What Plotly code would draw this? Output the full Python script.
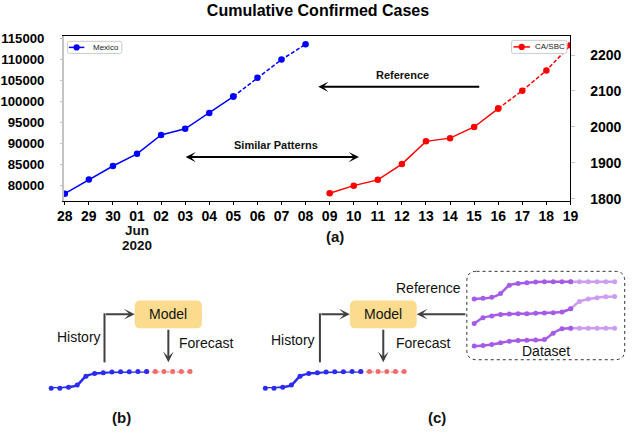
import plotly.graph_objects as go

W, H = 634, 432
FONT = "Liberation Sans, Arial, sans-serif"

# ---------------- panel (a): cumulative confirmed cases ----------------
days = ["28", "29", "30", "01", "02", "03", "04", "05", "06", "07", "08",
        "09", "10", "11", "12", "13", "14", "15", "16", "17", "18", "19"]
month_label = ["Jun", "2020"]   # printed under "01"

mexico_days = ["28", "29", "30", "01", "02", "03", "04", "05", "06", "07", "08"]
mexico_cases = [78100, 81450, 84700, 87600, 92100, 93550, 97350, 101250, 105750, 110050, 113700]
mexico_ticks = [80000, 85000, 90000, 95000, 100000, 105000, 110000, 115000]

sbc_days = ["09", "10", "11", "12", "13", "14", "15", "16", "17", "18", "19"]
sbc_cases = [1816, 1837, 1853, 1897, 1960, 1969, 2000, 2051, 2101, 2157, 2227]
sbc_ticks = [1800, 1900, 2000, 2100, 2200]

split = 7  # from this point on the series is drawn dashed

# ---------------- panels (b) and (c): sketch curves ----------------
sketch_history = [0.0, 0.0, 0.06, 0.19, 0.71, 0.87, 0.92, 0.96, 0.98, 0.98, 1.0, 1.0]
sketch_forecast = [1.0, 1.0, 1.0, 1.0, 1.0, 1.0]   # starts at the last history point

ref_curves = [
    [62.3, 63, 64, 68, 76.3, 78.3, 79, 79.7, 80, 80, 80, 80, 80, 80, 80, 80, 80],
    [37.3, 43, 45, 46.3, 47, 47.3, 47.3, 47.7, 48, 48.3, 49, 52.3, 59.7, 62.3, 63.7, 64.7, 65],
    [14, 14.7, 15.7, 17.3, 19, 19.7, 20, 20.3, 20.7, 27.3, 31.7, 32.3, 32.3, 32.3, 32.3, 32.3, 32.3],
]
ref_split = 11

BLUE = "#0000ff"
RED = "#ff0000"
S_BLUE = "#2b2bf2"
S_RED = "#f26a6a"
PURPLE = "#a65be8"
PURPLE_L = "#cd9df3"
GOLD = "#fbdc8e"
DARK = "#404040"


def px(x):
    return x / W


def py(y):
    return 1 - y / H


fig = go.Figure()

# Mexico (left axis)
fig.add_trace(go.Scatter(x=mexico_days[:split + 1], y=mexico_cases[:split + 1], name="Mexico",
                         mode="lines+markers", line=dict(color=BLUE, width=1.5),
                         marker=dict(size=6.5, color=BLUE)))
fig.add_trace(go.Scatter(x=mexico_days[split:], y=mexico_cases[split:], name="Mexico",
                         mode="lines+markers", line=dict(color=BLUE, width=1.5, dash="4px,2px"),
                         marker=dict(size=6.5, color=BLUE)))
# CA/SBC (right axis)
fig.add_trace(go.Scatter(x=sbc_days[:split + 1], y=sbc_cases[:split + 1], name="CA/SBC",
                         mode="lines+markers", line=dict(color=RED, width=1.5),
                         marker=dict(size=6.5, color=RED), yaxis="y2"))
fig.add_trace(go.Scatter(x=sbc_days[split:], y=sbc_cases[split:], name="CA/SBC",
                         mode="lines+markers", line=dict(color=RED, width=1.5, dash="4px,2px"),
                         marker=dict(size=6.5, color=RED), yaxis="y2"))

# sketch curves in (b) and (c)
for ax in ["4", "5"]:
    fig.add_trace(go.Scatter(x=list(range(len(sketch_history) - 1, len(sketch_history) - 1 + len(sketch_forecast))),
                             y=sketch_forecast, mode="lines+markers",
                             line=dict(color=S_RED, width=2, dash="3px,2px"),
                             marker=dict(size=5, color=S_RED), cliponaxis=False,
                             xaxis="x" + ax, yaxis="y" + ax))
    fig.add_trace(go.Scatter(x=list(range(len(sketch_history))), y=sketch_history,
                             mode="lines+markers",
                             line=dict(color=S_BLUE, width=2.5, shape="spline", smoothing=0.8),
                             marker=dict(size=5, color=S_BLUE), cliponaxis=False,
                             xaxis="x" + ax, yaxis="y" + ax))

# reference dataset curves in (c)
for c in ref_curves:
    fig.add_trace(go.Scatter(x=list(range(ref_split, len(c))), y=c[ref_split:],
                             mode="lines+markers",
                             line=dict(color=PURPLE_L, width=2.5, shape="spline", smoothing=0.8),
                             marker=dict(size=5, color=PURPLE_L), cliponaxis=False,
                             xaxis="x6", yaxis="y6"))
    fig.add_trace(go.Scatter(x=list(range(ref_split + 1)), y=c[:ref_split + 1],
                             mode="lines+markers",
                             line=dict(color=PURPLE, width=2.5, shape="spline", smoothing=0.8),
                             marker=dict(size=5, color=PURPLE), cliponaxis=False,
                             xaxis="x6", yaxis="y6"))


def rrect(x0, y0, x1, y1, r):
    return (f"M{x0 + r},{y0} L{x1 - r},{y0} Q{x1},{y0} {x1},{y0 + r} L{x1},{y1 - r} "
            f"Q{x1},{y1} {x1 - r},{y1} L{x0 + r},{y1} Q{x0},{y1} {x0},{y1 - r} "
            f"L{x0},{y0 + r} Q{x0},{y0} {x0 + r},{y0} Z")


def text(x, y, s, size=14, bold=False, anchor="center", color="#111111"):
    return dict(x=x, y=y, xref="x3", yref="y3", text=s, showarrow=False, xanchor=anchor,
                yanchor="middle", font=dict(family=FONT, size=size, color=color,
                                            weight="bold" if bold else "normal"))


def arrow(x0, y0, x1, y1, color=DARK, width=2, size=0.9, both=False):
    return dict(x=x1, y=y1, ax=x0, ay=y0, xref="x3", yref="y3", axref="x3", ayref="y3",
                text="", showarrow=True, arrowhead=3, arrowsize=size, arrowwidth=width,
                arrowcolor=color, arrowside="end+start" if both else "end",
                startarrowhead=3, startarrowsize=size, standoff=0, startstandoff=0)


annotations = [
    text(132.5, 231, month_label[0], 13.5, True),
    text(132.5, 247, month_label[1], 13.5, True),
    text(405, 71.7, "Reference", 11, True),
    arrow(485, 84, 318.3, 84, "black", 2, 0.85),
    text(274.8, 143.3, "Similar Patterns", 11, True),
    arrow(180.7, 156, 360, 156, "black", 2, 0.85, both=True),
    text(335.5, 238, "(a)", 15, True),
    # (b)
    text(164.5, 317.5, "Model"),
    text(73.3, 340.7, "History"),
    text(173.3, 346.7, "Forecast", anchor="left"),
    arrow(99, 317.3, 130, 317.3),
    arrow(164.5, 331.7, 164.5, 366.7),
    text(116.7, 423.3, "(b)", 15, True),
    # (c)
    text(385, 317.5, "Model"),
    text(292.7, 343.3, "History"),
    text(396, 346.7, "Forecast", anchor="left"),
    arrow(320, 317.3, 350.7, 317.3),
    arrow(385, 331.7, 385, 366.7),
    arrow(470.7, 317.3, 419.3, 317.3),
    text(431.7, 290, "Reference"),
    text(551.7, 355, "Dataset"),
    text(440.5, 423.3, "(c)", 15, True),
]

shapes = [
    dict(type="path", xref="x3", yref="y3", path=rrect(130, 303.3, 199, 331.7, 6),
         fillcolor=GOLD, line=dict(width=0), layer="below"),
    dict(type="path", xref="x3", yref="y3", path=rrect(350.7, 303.3, 419.3, 331.7, 6),
         fillcolor=GOLD, line=dict(width=0), layer="below"),
    dict(type="line", xref="x3", yref="y3", x0=99, y0=366.7, x1=99, y1=316.3,
         line=dict(color=DARK, width=2)),
    dict(type="line", xref="x3", yref="y3", x0=320, y0=366.7, x1=320, y1=316.3,
         line=dict(color=DARK, width=2)),
    dict(type="path", xref="x3", yref="y3", path=rrect(470.7, 273.3, 632.7, 364, 10),
         line=dict(color="#333333", width=1, dash="dot"), layer="below"),
]


# small matplotlib-like legend boxes inside panel (a)
def legend_box(x0, y0, x1, y1, key_x0, key_x1, color, label, label_x):
    yc = (y0 + y1) / 2
    kc = (key_x0 + key_x1) / 2
    shapes.extend([
        dict(type="path", xref="x3", yref="y3", path=rrect(x0, y0, x1, y1, 2),
             fillcolor="white", line=dict(color="#cccccc", width=1)),
        dict(type="line", xref="x3", yref="y3", x0=key_x0, y0=yc, x1=key_x1, y1=yc,
             line=dict(color=color, width=1.5)),
        dict(type="circle", xref="x3", yref="y3", x0=kc - 3.2, y0=yc - 3.2, x1=kc + 3.2,
             y1=yc + 3.2, fillcolor=color, line=dict(width=0)),
    ])
    annotations.append(text(label_x, yc, label, 8, anchor="left", color="#222222"))


legend_box(61, 37.3, 116.7, 49.7, 62.5, 78.3, BLUE, "Mexico", 85)
legend_box(516.5, 36.3, 573.3, 49.7, 518.5, 535.5, RED, "CA/SBC", 539)

hidden = dict(visible=False, fixedrange=True, showgrid=False, zeroline=False)

fig.update_layout(
    width=W, height=H, autosize=False, showlegend=False,
    margin=dict(l=0, r=0, t=0, b=0),
    paper_bgcolor="white", plot_bgcolor="rgba(0,0,0,0)",
    font=dict(family=FONT, color="black"),
    title=dict(text="Cumulative Confirmed Cases", x=318 / W, y=py(10.5), xanchor="center",
               yanchor="middle", font=dict(family=FONT, size=16, weight="bold", color="black")),
    xaxis=dict(domain=[px(57.5), px(577)], anchor="y", type="category",
               categoryorder="array", categoryarray=days, tickvals=days,
               range=[-0.03, 21.0], showline=True, linecolor="black", linewidth=1, mirror=True,
               ticks="outside", ticklen=3, tickcolor="black", showgrid=False, zeroline=False,
               tickangle=0, tickfont=dict(size=14, weight="bold"), ticklabelstandoff=-1),
    yaxis=dict(domain=[py(201), py(32)], anchor="x", range=[76380, 115630],
               tickvals=mexico_ticks, tickformat="d", showline=True, linecolor="#c4c4c4",
               linewidth=2, ticks="outside", ticklen=2, tickcolor="#c4c4c4", showgrid=False,
               zeroline=False, tickfont=dict(size=13.2, weight="bold"), ticklabelstandoff=13),
    yaxis2=dict(overlaying="y", side="right", anchor="x", range=[1794.6, 2252.3],
                tickvals=sbc_ticks, tickformat="d", showline=True, linecolor="black", linewidth=1,
                ticks="outside", ticklen=4, tickcolor="#c4c4c4", showgrid=False, zeroline=False,
                tickfont=dict(size=14, weight="bold"), ticklabelstandoff=12),
    xaxis3=dict(domain=[0, 1], range=[0, W], anchor="y3", **hidden),
    yaxis3=dict(domain=[0, 1], range=[H, 0], anchor="x3", **hidden),
    xaxis4=dict(domain=[px(44.3), px(186.7)], range=[0, 16], anchor="y4", **hidden),
    yaxis4=dict(domain=[py(393.3), py(376)], range=[0, 1], anchor="x4", **hidden),
    xaxis5=dict(domain=[px(264), px(406.4)], range=[0, 16], anchor="y5", **hidden),
    yaxis5=dict(domain=[py(393.3), py(376)], range=[0, 1], anchor="x5", **hidden),
    xaxis6=dict(domain=[px(478.3), px(622.3)], range=[0, 16], anchor="y6", **hidden),
    yaxis6=dict(domain=[py(364), py(273.3)], range=[0, 90.7], anchor="x6", **hidden),
    annotations=annotations,
    shapes=shapes,
)

# the page's default body margin would shift the fixed-size figure
fig.write_html("out.html", config={"displayModeBar": False},
               post_script="document.body.style.margin='0px';")
